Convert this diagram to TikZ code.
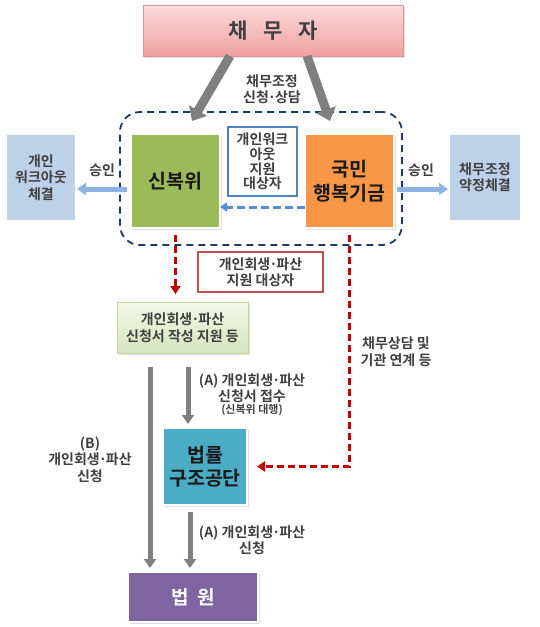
\documentclass[tikz,border=0pt]{standalone}
\usepackage{fontspec}
\setmainfont{Noto Sans CJK KR}[BoldFont={Noto Sans CJK KR Bold}]
\usetikzlibrary{arrows.meta,shadows}
\newcommand{\mydot}{\kern-0.08em·\kern-0.08em}
\definecolor{txtgray}{HTML}{404040}
\definecolor{txtdark}{HTML}{1A1A1A}
\definecolor{pinktop}{HTML}{FADADA}
\definecolor{pinkbot}{HTML}{F2A0A0}
\definecolor{pinkborder}{HTML}{D99594}
\definecolor{sgreen}{HTML}{9BBB59}
\definecolor{sorange}{HTML}{F79646}
\definecolor{steal}{HTML}{4BACC6}
\definecolor{spurple}{HTML}{8064A2}
\definecolor{lblue}{HTML}{BDD1E9}
\definecolor{arrblue}{HTML}{8EB4E3}
\definecolor{dashblue}{HTML}{558ED5}
\definecolor{midblue}{HTML}{4F81BD}
\definecolor{navy}{HTML}{1F3864}
\definecolor{arrgray}{HTML}{7F7F7F}
\definecolor{reddash}{HTML}{C00000}
\definecolor{redbox}{HTML}{C0504D}
\definecolor{lgtop}{HTML}{F3F8E8}
\definecolor{lgbot}{HTML}{D7E4BD}
\definecolor{lgborder}{HTML}{C3D69B}
\begin{document}
\begin{tikzpicture}[x=1pt,y=-1pt,
  every node/.style={inner sep=0pt, outer sep=0pt},
  shad/.style={drop shadow={opacity=0.25, shadow xshift=1.5pt, shadow yshift=-1.5pt}},
  solidbox/.style={rectangle, draw=white, line width=1.5pt, shad, align=center, text=txtdark},
  lightbox/.style={rectangle, fill=lblue, align=center, text=txtgray,
     font=\bfseries\fontsize{14}{16.5}\selectfont},
  lbl/.style={align=center, text=txtgray, font=\bfseries\fontsize{14}{16.5}\selectfont},
  bigarrow/.style={draw=arrgray, line width=9pt, -{Triangle[width=20pt,length=12pt]}},
  medarrow/.style={draw=arrgray, line width=5pt, -{Triangle[width=12pt,length=9pt]}},
  apparrow/.style={draw=arrblue, line width=5pt, -{Triangle[width=12pt,length=9pt]}},
  bluedash/.style={draw=dashblue, line width=3pt, dash pattern=on 8pt off 4pt, -{Triangle[width=9pt,length=7pt]}},
  reddashed/.style={draw=reddash, line width=2.6pt, dash pattern=on 7pt off 4pt, -{Triangle[width=10pt,length=8pt]}}
]
\useasboundingbox (0,0) rectangle (540,627);

% dashed group
\node[draw=navy, line width=1.8pt, dash pattern=on 7pt off 5pt, rounded corners=20pt,
  minimum width=282pt, minimum height=133pt] (grp) at (261,178.5) {};

% debtor
\node[rectangle, draw=pinkborder, line width=0.8pt, top color=pinktop, bottom color=pinkbot, shad,
  minimum width=260pt, minimum height=51pt, text=txtgray,
  font=\bfseries\fontsize{21}{24}\selectfont] (debtor) at (273,30.5) {채\hspace{0.75em}무\hspace{0.75em}자};

% main boxes
\node[solidbox, fill=sgreen, minimum width=89pt, minimum height=94pt,
  font=\bfseries\fontsize{19.5}{24}\selectfont] (sinbok) at (175.5,181) {신복위};
\node[solidbox, fill=sorange, minimum width=89pt, minimum height=94pt,
  font=\bfseries\fontsize{19.5}{24}\selectfont] (kukmin) at (349.5,181) {국민\\행복기금};
\node[rectangle, draw=midblue, line width=1.5pt, fill=white, minimum width=69pt, minimum height=69pt,
  align=center, text=txtgray, font=\bfseries\fontsize{14}{14.7}\selectfont] (mid) at (262.5,161.5)
  {개인워크\\아웃\\지원\\대상자};

\node[lightbox, minimum width=68pt, minimum height=85pt] (leftbox) at (41,177.5) {개인\\워크아웃\\체결};
\node[lightbox, minimum width=70pt, minimum height=85pt] (rightbox) at (485,177.5) {채무조정\\약정체결};

% lower boxes
\node[rectangle, draw=redbox, line width=1.5pt, fill=white, minimum width=125pt, minimum height=40pt,
  align=center, text=txtgray, font=\bfseries\fontsize{14}{16}\selectfont] (redlbl) at (260.5,272)
  {개인회생\mydot 파산\\지원 대상자};
\node[rectangle, draw=lgborder, line width=0.8pt, top color=lgtop, bottom color=lgbot, shad,
  minimum width=131pt, minimum height=51pt, align=center, text=txtgray,
  font=\bfseries\fontsize{14}{17}\selectfont] (gbox) at (182.5,327.5)
  {개인회생\mydot 파산\\신청서 작성 지원 등};
\node[solidbox, fill=steal, minimum width=84pt, minimum height=77pt,
  font=\bfseries\fontsize{19.5}{23}\selectfont] (beop) at (205,466.5) {법률\\구조공단};
\node[solidbox, fill=spurple, minimum width=130pt, minimum height=50pt, text=white,
  font=\bfseries\fontsize{19}{22}\selectfont] (court) at (193,597) {법\hspace{0.45em}원};

% big gray arrows from debtor
\coordinate (d1) at ([xshift=-43pt]debtor.south);
\coordinate (d1e) at (192,121);
\coordinate (d2) at ([xshift=34pt]debtor.south);
\coordinate (d2e) at (330,121);
\draw[bigarrow] (d1) -- (d1e);
\draw[bigarrow] (d2) -- (d2e);
\node[lbl] (lab1) at (272,89.5) {채무조정\\신청\mydot 상담};

% blue dashed arrow
\draw[bluedash] ([yshift=-26pt]kukmin.west) -- ([yshift=-26pt]sinbok.east);

% approval arrows
\coordinate (la) at ([xshift=7pt,yshift=-10.5pt]grp.west);
\coordinate (ra) at ([xshift=-5pt,yshift=-10.5pt]grp.east);
\draw[apparrow] (la) -- ([xshift=2pt]la -| leftbox.east);
\draw[apparrow] (ra) -- ([xshift=-2pt]ra -| rightbox.west);
\node[lbl] (ok1) at (102,170) {승인};
\node[lbl] (ok2) at (421,170) {승인};

% red dashed connectors
\draw[reddashed, shorten >=8pt] ([yshift=-7pt]sinbok.south) -- (sinbok.south |- gbox.north);
\draw[reddashed, shorten >=10pt] ([yshift=-7pt]kukmin.south) -- (kukmin.south |- beop.east) -- (beop.east);
\node[lbl] (lab5) at (396,352) {채무상담 및\\기관 연계 등};

% gray arrows lower
\coordinate (g1) at ([xshift=-32.5pt]gbox.south);
\coordinate (g2) at ([xshift=5.5pt]gbox.south);
\coordinate (b1) at ([xshift=-15pt]beop.south);
\draw[medarrow, shorten <=14pt, shorten >=4pt] (g1) -- (g1 |- court.north);
\draw[medarrow, shorten <=14pt, shorten >=4pt] (g2) -- (g2 |- beop.north);
\draw[medarrow, shorten <=7pt, shorten >=4pt] (b1) -- (b1 |- court.north);

\node[lbl] (lab2) at (252,388.5) {(A) 개인회생\mydot 파산\\신청서 접수};
\node[text=txtgray, font=\bfseries\fontsize{11}{13}\selectfont] (lab2b) at (252,410) {(신복위 대행)};
\node[lbl] (lab3) at (90,459.5) {(B)\\개인회생\mydot 파산\\신청};
\node[lbl] (lab4) at (252,540) {(A) 개인회생\mydot 파산\\신청};
\end{tikzpicture}
\end{document}
